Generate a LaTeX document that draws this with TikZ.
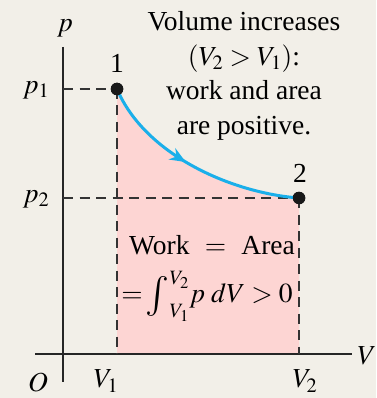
\documentclass[tikz,border=0pt]{standalone}
\usepackage{mathptmx}
\usepackage[no-math]{fontspec}
\setmainfont{Liberation Serif}
\usetikzlibrary{arrows.meta, decorations.markings}

\definecolor{bgbeige}{HTML}{F2EFE8}
\definecolor{areapink}{HTML}{FDD5D3}
\definecolor{pathblue}{HTML}{1AAFEA}

\newcommand{\bigint}{\mathop{\raisebox{-4pt}{\scalebox{1.45}{$\int$}}}\nolimits}

\begin{document}
\begin{tikzpicture}[
  x=1pt, y=-1pt,
  every node/.style={font=\fontsize{27.5}{34.5}\selectfont, inner sep=0pt},
  axis/.style={line width=1.8pt, black!85},
  guide/.style={line width=1.6pt, black!80, dash pattern=on 10pt off 6.5pt},
  state/.style={circle, fill=black!90, minimum size=12.5pt},
  process/.style={line width=3pt, pathblue,
    postaction={decorate, decoration={markings,
      mark=at position 0.46 with {\arrow{Stealth[length=16pt, width=13pt]}}}}}
]
% ===== BACKGROUND =====
\fill[bgbeige] (0,0) rectangle (376,398);

% ===== AXES =====
\coordinate (ytop) at (63,47);
\coordinate (ybot) at (63,382);
\coordinate (xleft) at (35,354);
\coordinate (xright) at (352,354);
\coordinate (v1) at (117,354);
\coordinate (v2) at (299,354);
\coordinate (p1) at (63,89);
\coordinate (p2) at (63,198);

% ===== STATES =====
\node[state] (s1) at (117,89) {};
\node[state] (s2) at (299,198) {};

% ===== WORK AREA =====
\fill[areapink] (s1.center) .. controls (145,155) and (232,193) .. (s2.center)
  -- (v2) -- (v1) -- cycle;

\draw[axis] (ytop) -- (ybot);
\draw[axis] (xleft) -- (xright);

% ===== GUIDES =====
\draw[guide] (p1) -- (s1.center);
\draw[guide] (p2) -- (s2.center);
\draw[guide] (s1.center) -- (v1);
\draw[guide] (s2.center) -- (v2);

% ===== PROCESS =====
\draw[process] (s1.center) .. controls (145,155) and (232,193) .. (s2.center);
\node[state] at (s1) {};
\node[state] at (s2) {};

% ===== LABELS =====
\node (lp) at (65,28) {$p$};
\node (lV) at (367,356) {$V$};
\node (lO) at (38,382) {$O$};
\node (lV1) at (106,381) {$V_1$};
\node (lV2) at (305,381) {$V_2$};
\node (lp1) at (36,90) {$p_1$};
\node (lp2) at (36,199) {$p_2$};
\node (l1) at (117,63) {1};
\node (l2) at (300,173) {2};

\node[align=center] (note) at (244,76)
  {Volume increases\\$(V_2>V_1)$:\\work and area\\are positive.};
\node (work) at (212,245) {Work\;\;$=$\;\;Area};
\node (integ) at (207,296)
  {$=\!\bigint_{V_1}^{V_2}\!p\;dV > 0$};
\end{tikzpicture}
\end{document}
